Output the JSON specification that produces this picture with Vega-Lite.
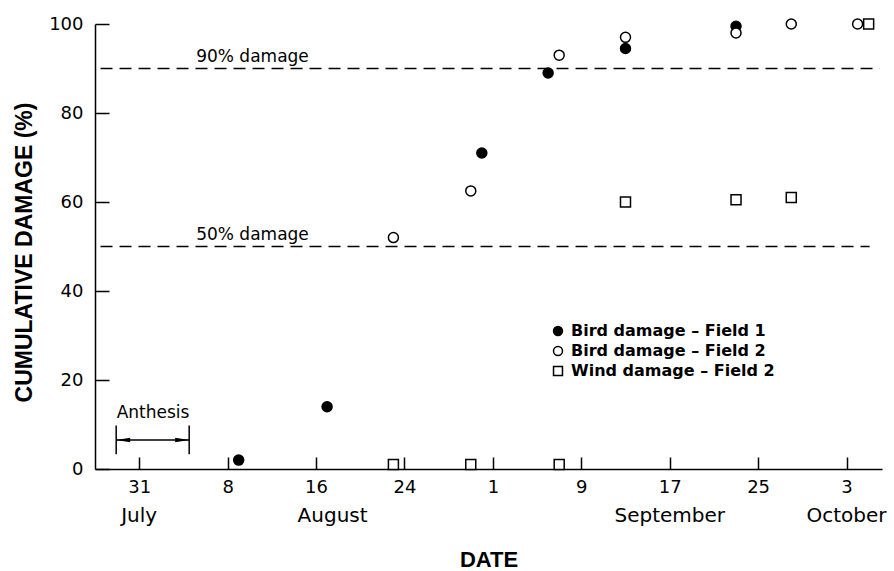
{
  "$schema": "https://vega.github.io/schema/vega-lite/v6.json",
  "width": 787,
  "height": 445,
  "autosize": "none",
  "padding": {"left": 95, "top": 24, "right": 12, "bottom": 102},
  "config": {
    "view": {"stroke": null},
    "font": "DejaVu Sans",
    "axis": {
      "domainColor": "black",
      "domainWidth": 1.5,
      "tickColor": "black",
      "tickWidth": 1.5,
      "grid": false,
      "labelColor": "black",
      "labelFont": "DejaVu Sans",
      "labelFontSize": 18,
      "titleFont": "Liberation Sans",
      "titleFontWeight": "bold",
      "titleColor": "black",
      "titleFontSize": 22
    },
    "legend": {
      "labelFont": "DejaVu Sans",
      "labelFontSize": 16,
      "labelFontWeight": "bold",
      "labelColor": "black",
      "labelLimit": 400,
      "symbolStrokeWidth": 1.5
    }
  },
  "datasets": {
    "points": [
      {"date": "1983-08-09", "damage": 2, "series": "Bird damage – Field 1"},
      {"date": "1983-08-17", "damage": 14, "series": "Bird damage – Field 1"},
      {"date": "1983-08-31", "damage": 71, "series": "Bird damage – Field 1"},
      {"date": "1983-09-06", "damage": 89, "series": "Bird damage – Field 1"},
      {"date": "1983-09-13", "damage": 94.5, "series": "Bird damage – Field 1"},
      {"date": "1983-09-23", "damage": 99.5, "series": "Bird damage – Field 1"},
      {"date": "1983-08-23", "damage": 52, "series": "Bird damage – Field 2"},
      {"date": "1983-08-30", "damage": 62.5, "series": "Bird damage – Field 2"},
      {"date": "1983-09-07", "damage": 93, "series": "Bird damage – Field 2"},
      {"date": "1983-09-13", "damage": 97, "series": "Bird damage – Field 2"},
      {"date": "1983-09-23", "damage": 98, "series": "Bird damage – Field 2"},
      {"date": "1983-09-28", "damage": 100, "series": "Bird damage – Field 2"},
      {"date": "1983-10-04", "damage": 100, "series": "Bird damage – Field 2"},
      {"date": "1983-08-23", "damage": 1, "series": "Wind damage – Field 2"},
      {"date": "1983-08-30", "damage": 1, "series": "Wind damage – Field 2"},
      {"date": "1983-09-07", "damage": 1, "series": "Wind damage – Field 2"},
      {"date": "1983-09-13", "damage": 60, "series": "Wind damage – Field 2"},
      {"date": "1983-09-23", "damage": 60.5, "series": "Wind damage – Field 2"},
      {"date": "1983-09-28", "damage": 61, "series": "Wind damage – Field 2"},
      {"date": "1983-10-05", "damage": 100, "series": "Wind damage – Field 2"}
    ],
    "refs": [
      {"date": "1983-07-27T12:00:00Z", "date2": "1983-10-06T00:00:00Z", "damage": 90},
      {"date": "1983-07-27T12:00:00Z", "date2": "1983-10-05T02:00:00Z", "damage": 50}
    ],
    "notes": [
      {"date": "1983-08-10T06:00:00Z", "damage": 92.5, "label": "90% damage"},
      {"date": "1983-08-10T06:00:00Z", "damage": 52.5, "label": "50% damage"},
      {"date": "1983-08-01T06:00:00Z", "damage": 12.5, "label": "Anthesis"}
    ],
    "anthesisSpan": [
      {"date": "1983-07-28T22:00:00Z", "date2": "1983-08-04T12:30:00Z", "damage": 6.5}
    ],
    "anthesisBars": [
      {"date": "1983-07-28T22:00:00Z", "damage": 3.3, "damage2": 9.8},
      {"date": "1983-08-04T12:30:00Z", "damage": 3.3, "damage2": 9.8}
    ],
    "arrowLeft": [
      {"date": "1983-07-28T22:00:00Z", "damage": 6.5}
    ],
    "arrowRight": [
      {"date": "1983-08-04T12:30:00Z", "damage": 6.5}
    ],
    "months": [
      {"date": "1983-07-31T00:00:00Z", "label": "July"},
      {"date": "1983-08-17T12:00:00Z", "label": "August"},
      {"date": "1983-09-17T00:00:00Z", "label": "September"},
      {"date": "1983-10-03T00:00:00Z", "label": "October"}
    ]
  },
  "layer": [
    {
      "data": {"name": "points"},
      "mark": {"type": "point", "filled": false, "strokeWidth": 1.5, "size": 100, "opacity": 1},
      "encoding": {
        "x": {
          "field": "date", "type": "temporal",
          "scale": {"type": "utc", "domain": [
            {"year": 1983, "month": 7, "date": 27, "utc": true},
            {"year": 1983, "month": 10, "date": 6, "hours": 5, "utc": true}
          ]},
          "axis": {
            "title": "DATE",
            "titlePadding": 53,
            "values": [
              {"year": 1983, "month": 7, "date": 31, "utc": true},
              {"year": 1983, "month": 8, "date": 8, "utc": true},
              {"year": 1983, "month": 8, "date": 16, "utc": true},
              {"year": 1983, "month": 8, "date": 24, "utc": true},
              {"year": 1983, "month": 9, "date": 1, "utc": true},
              {"year": 1983, "month": 9, "date": 9, "utc": true},
              {"year": 1983, "month": 9, "date": 17, "utc": true},
              {"year": 1983, "month": 9, "date": 25, "utc": true},
              {"year": 1983, "month": 10, "date": 3, "utc": true}
            ],
            "labelExpr": "utcdate(datum.value)",
            "tickSize": -12,
            "labelPadding": 21,
            "labelFlush": false,
            "labelOverlap": false
          }
        },
        "y": {
          "field": "damage", "type": "quantitative",
          "scale": {"domain": [0, 100]},
          "axis": {
            "title": "CUMULATIVE DAMAGE (%)",
            "titlePadding": 12,
            "titleFontSize": 23,
            "titleY": 228,
            "values": [0, 20, 40, 60, 80, 100],
            "tickSize": -14,
            "labelPadding": 26
          }
        },
        "shape": {
          "field": "series", "type": "nominal",
          "scale": {"domain": ["Bird damage – Field 1", "Bird damage – Field 2", "Wind damage – Field 2"], "range": ["circle", "circle", "square"]},
          "legend": {"title": null, "orient": "none", "legendX": 455, "legendY": 299, "symbolSize": 80, "rowPadding": 4, "labelOffset": 5, "padding": 0}
        },
        "fill": {
          "field": "series", "type": "nominal",
          "scale": {"domain": ["Bird damage – Field 1", "Bird damage – Field 2", "Wind damage – Field 2"], "range": ["black", "white", "white"]},
          "legend": {"title": null, "orient": "none", "legendX": 455, "legendY": 299, "symbolSize": 80, "rowPadding": 4, "labelOffset": 5, "padding": 0}
        },
        "stroke": {
          "field": "series", "type": "nominal",
          "scale": {"domain": ["Bird damage – Field 1", "Bird damage – Field 2", "Wind damage – Field 2"], "range": ["black", "black", "black"]},
          "legend": {"title": null, "orient": "none", "legendX": 455, "legendY": 299, "symbolSize": 80, "rowPadding": 4, "labelOffset": 5, "padding": 0}
        }
      }
    },
    {
      "data": {"name": "refs"},
      "mark": {"type": "rule", "color": "black", "strokeWidth": 1.5, "strokeDash": [12, 7]},
      "encoding": {
        "x": {"field": "date", "type": "temporal"},
        "x2": {"field": "date2"},
        "y": {"field": "damage", "type": "quantitative"}
      }
    },
    {
      "data": {"name": "notes"},
      "mark": {"type": "text", "font": "DejaVu Sans", "fontSize": 17, "color": "black", "align": "center", "baseline": "middle"},
      "encoding": {
        "x": {"field": "date", "type": "temporal"},
        "y": {"field": "damage", "type": "quantitative"},
        "text": {"field": "label"}
      }
    },
    {
      "data": {"name": "anthesisSpan"},
      "mark": {"type": "rule", "color": "black", "strokeWidth": 1.5},
      "encoding": {
        "x": {"field": "date", "type": "temporal"},
        "x2": {"field": "date2"},
        "y": {"field": "damage", "type": "quantitative"}
      }
    },
    {
      "data": {"name": "anthesisBars"},
      "mark": {"type": "rule", "color": "black", "strokeWidth": 1.5},
      "encoding": {
        "x": {"field": "date", "type": "temporal"},
        "y": {"field": "damage", "type": "quantitative"},
        "y2": {"field": "damage2"}
      }
    },
    {
      "data": {"name": "arrowLeft"},
      "mark": {"type": "point", "shape": "M-1,0L1,-0.32L1,0.32Z", "filled": true, "color": "black", "size": 196, "xOffset": 7, "opacity": 1},
      "encoding": {
        "x": {"field": "date", "type": "temporal"},
        "y": {"field": "damage", "type": "quantitative"}
      }
    },
    {
      "data": {"name": "arrowRight"},
      "mark": {"type": "point", "shape": "M1,0L-1,-0.32L-1,0.32Z", "filled": true, "color": "black", "size": 196, "xOffset": -7, "opacity": 1},
      "encoding": {
        "x": {"field": "date", "type": "temporal"},
        "y": {"field": "damage", "type": "quantitative"}
      }
    },
    {
      "data": {"name": "months"},
      "mark": {"type": "text", "font": "DejaVu Sans", "fontSize": 20, "color": "black", "align": "center", "baseline": "middle", "dy": 47},
      "encoding": {
        "x": {"field": "date", "type": "temporal"},
        "y": {"datum": 0},
        "text": {"field": "label"}
      }
    }
  ]
}
